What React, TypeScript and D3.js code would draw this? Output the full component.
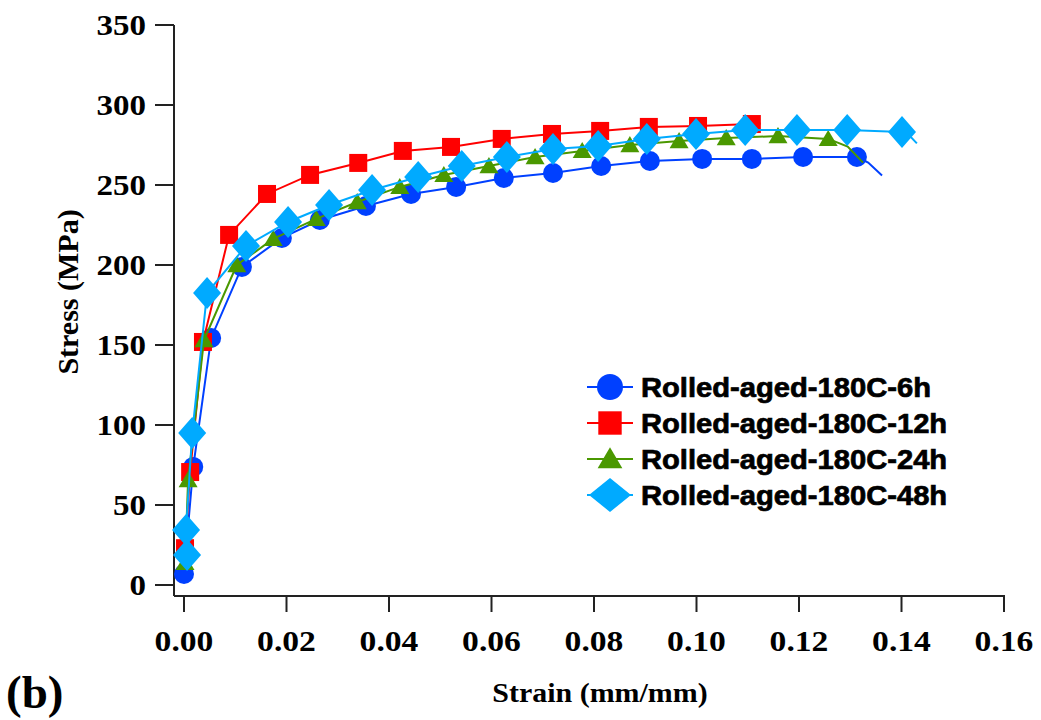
import React from "react";
import * as d3 from "d3";

// ---------- data (strain mm/mm, stress MPa) ----------
const xTicks = [0, 0.02, 0.04, 0.06, 0.08, 0.1, 0.12, 0.14, 0.16];
const yTicks = [0, 50, 100, 150, 200, 250, 300, 350];

const labels = [
  "Rolled-aged-180C-6h",
  "Rolled-aged-180C-12h",
  "Rolled-aged-180C-24h",
  "Rolled-aged-180C-48h",
];

const s6h: [number, number][] = [
  [0.0, 6.9], [0.0018, 73.8], [0.0053, 154.4], [0.0113, 198.8], [0.0191, 216.9],
  [0.0265, 228.1], [0.0355, 236.9], [0.0443, 244.4], [0.0531, 248.8], [0.0624, 254.4],
  [0.072, 257.5], [0.0814, 261.9], [0.0909, 265.0], [0.1011, 266.3], [0.1108, 266.3],
  [0.1208, 267.5], [0.1313, 267.5],
];
const s6hTail: [number, number][] = [[0.1313, 267.5], [0.1335, 264], [0.1362, 256]];

const s12h: [number, number][] = [
  [0.0002, 23], [0.0012, 70.6], [0.0037, 151.9], [0.0088, 218.8], [0.0162, 244.4],
  [0.0246, 256.3], [0.034, 263.8], [0.0427, 271.3], [0.0521, 273.8], [0.062, 278.8],
  [0.0718, 281.9], [0.0812, 283.8], [0.0907, 286.3], [0.1003, 286.9], [0.1108, 288.1],
];
const s12hTail: [number, number][] = [[0.1108, 288.1], [0.1125, 288.5]];

const s24h: [number, number][] = [
  [0.0002, 13.8], [0.0008, 65.6], [0.0039, 153.1], [0.0103, 200], [0.0174, 216.3],
  [0.0258, 228.8], [0.0338, 239.4], [0.0421, 248.8], [0.0507, 256.3], [0.0595, 261.9],
  [0.0685, 267.5], [0.0777, 271.3], [0.087, 275], [0.0966, 277.5], [0.1058, 279.4],
  [0.1159, 280.6], [0.1257, 278.8],
];
const s24hTail: [number, number][] = [[0.1257, 278.8], [0.1295, 274], [0.1325, 264]];

const s48h: [number, number][] = [
  [0.0006, 18.8], [0.0004, 34.4], [0.0016, 95], [0.0045, 182.5], [0.0121, 211.9],
  [0.0203, 226.9], [0.0283, 237.5], [0.0367, 246.9], [0.0457, 255], [0.0542, 261.9],
  [0.063, 267.5], [0.072, 272.5], [0.0808, 274.4], [0.0903, 278.8], [0.0999, 281.9],
  [0.1095, 284.4], [0.1196, 284.4], [0.1294, 284.4], [0.1401, 283.1],
];
const s48hTail: [number, number][] = [[0.1401, 283.1], [0.1415, 281], [0.143, 276]];

const colors = ["#0040ff", "#ff0000", "#4a9800", "#00aaff"];
const shapes = ["circle", "square", "triangle", "diamond"];

// ---------- layout ----------
const W = 1041;
const H = 720;
const x = d3.scaleLinear().domain([0, 0.16]).range([184, 1004]);
const y = d3.scaleLinear().domain([0, 350]).range([585, 25]);
const axisX0 = 174; // y-axis position
const axisY0 = 596; // x-axis position

const serif = "'Liberation Serif', 'Times New Roman', serif";
const sans = "'Liberation Sans', Arial, sans-serif";

function Marker({ shape, cx, cy, color, big }: { shape: string; cx: number; cy: number; color: string; big?: boolean }) {
  const k = big ? 1.3 : 1;
  if (shape === "circle") return <circle cx={cx} cy={cy} r={10 * k} fill={color} />;
  if (shape === "square") {
    const s = 18 * k;
    return <rect x={cx - s / 2} y={cy - s / 2} width={s} height={s} fill={color} />;
  }
  if (shape === "triangle") {
    const w = 9.5 * k, h = 9 * k;
    return <path d={`M${cx},${cy - h} L${cx + w},${cy + h * 0.8} L${cx - w},${cy + h * 0.8} Z`} fill={color} />;
  }
  const hw = big ? 21 : 14, hh = big ? 17 : 16;
  return <path d={`M${cx},${cy - hh} L${cx + hw},${cy} L${cx},${cy + hh} L${cx - hw},${cy} Z`} fill={color} />;
}

export default function App() {
  const series = [s6h, s12h, s24h, s48h];
  const tails = [s6hTail, s12hTail, s24hTail, s48hTail];
  const line = d3.line<[number, number]>().x((d) => x(d[0])).y((d) => y(d[1]));

  return (
    <div style={{ position: "absolute", left: 0, top: 0 }}>
      <svg width={W} height={H} style={{ display: "block", background: "#fff" }}>
        {/* axes */}
        <line x1={axisX0} y1={y(350)} x2={axisX0} y2={axisY0} stroke="#222" strokeWidth={2} />
        <line x1={axisX0} y1={axisY0} x2={x(0.16) + 1} y2={axisY0} stroke="#222" strokeWidth={2} />
        {yTicks.map((t) => (
          <g key={"y" + t}>
            <line x1={axisX0 - 19} x2={axisX0} y1={y(t)} y2={y(t)} stroke="#222" strokeWidth={2} />
            <text
              transform={`translate(146,${y(t) + 10}) scale(1.1,1)`}
              textAnchor="end"
              fontFamily={serif}
              fontWeight="bold"
              fontSize={30}
              fill="#000"
            >
              {t}
            </text>
          </g>
        ))}
        {xTicks.map((t) => (
          <g key={"x" + t}>
            <line x1={x(t)} x2={x(t)} y1={axisY0} y2={axisY0 + 16} stroke="#222" strokeWidth={2} />
            <text
              transform={`translate(${x(t)},651) scale(1.12,1)`}
              textAnchor="middle"
              fontFamily={serif}
              fontWeight="bold"
              fontSize={30}
              fill="#000"
            >
              {t.toFixed(2)}
            </text>
          </g>
        ))}
        <text
          transform={`translate(78,292) rotate(-90)`}
          textAnchor="middle"
          fontFamily={serif}
          fontWeight="bold"
          fontSize={30}
          fill="#000"
        >
          Stress (MPa)
        </text>
        <text
          transform={`translate(600,702) scale(1.07,1)`}
          textAnchor="middle"
          fontFamily={serif}
          fontWeight="bold"
          fontSize={28}
          fill="#000"
        >
          Strain (mm/mm)
        </text>
        <text x={6} y={708} fontFamily={serif} fontWeight="bold" fontSize={47} fill="#000">
          (b)
        </text>

        {/* series */}
        {series.map((s, i) => (
          <g key={"s" + i}>
            <path d={line(s) || ""} fill="none" stroke={colors[i]} strokeWidth={2} />
            <path d={line(tails[i]) || ""} fill="none" stroke={colors[i]} strokeWidth={2} />
            {s.map((d, j) => (
              <Marker key={j} shape={shapes[i]} cx={x(d[0])} cy={y(d[1])} color={colors[i]} />
            ))}
          </g>
        ))}

        {/* legend */}
        {labels.map((lab, i) => {
          const ly = 387 + i * 36;
          return (
            <g key={"l" + i}>
              <line x1={587} x2={633} y1={ly} y2={ly} stroke={colors[i]} strokeWidth={2} />
              <Marker shape={shapes[i]} cx={610} cy={ly} color={colors[i]} big />
              <text
                transform={`translate(641,${ly + 10}) scale(1.08,1)`}
                fontFamily={sans}
                fontWeight="bold"
                fontSize={27}
                fill="#000"
                stroke="#000"
                strokeWidth={0.7}
              >
                {lab}
              </text>
            </g>
          );
        })}
      </svg>
    </div>
  );
}
